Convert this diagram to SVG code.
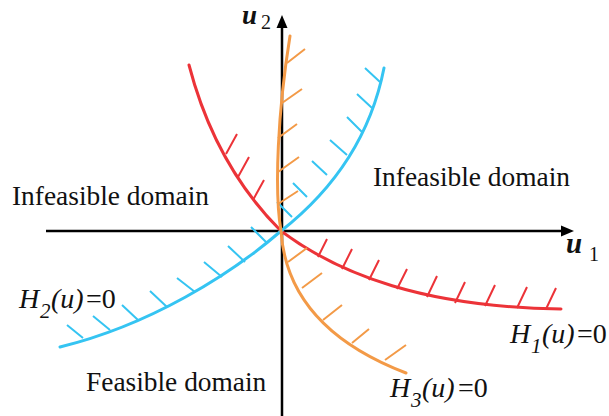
<svg xmlns="http://www.w3.org/2000/svg" width="609" height="416" viewBox="0 0 609 416">
<defs>
<style>
.ax{stroke:#000;stroke-width:2.5;fill:none}
.cv{fill:none;stroke-width:3;stroke-linecap:round}
.ht{fill:none;stroke-width:2;stroke-linecap:butt}
.red{stroke:#EC3338}
.blue{stroke:#35C4F2}
.org{stroke:#F39A47}
.lbl{font-family:"Liberation Serif","Times New Roman",serif;font-size:27.4px;fill:#111}
.eq{font-family:"Liberation Serif","Times New Roman",serif;font-size:28px;fill:#111;font-style:italic}
.sub{font-size:21px}
.rm{font-style:normal}
.axl{font-family:"Liberation Serif","Times New Roman",serif;fill:#111;font-size:29px;font-weight:bold;font-style:italic}
.axs{font-family:"Liberation Serif","Times New Roman",serif;fill:#111;font-size:20px}
</style>
</defs>
<rect width="609" height="416" fill="#fff"/>
<g id="axes">
<line class="ax" x1="46" y1="231" x2="564" y2="231"/>
<polygon points="574,231 561,225.5 561,236.5" fill="#000"/>
<line class="ax" x1="282" y1="416" x2="282" y2="26"/>
<polygon points="282,15 276.5,28 287.5,28" fill="#000"/>
</g>
<g id="connectors">
<g id="H1">
<path class="cv red" d="M189,65 Q215,165 281,231 C340,275 425,307 561,309"/>
<path class="ht red" d="M226,154 l11,-20 M238,177 l11,-20 M253,200 l11,-20 M318,257 l9,-18 M342,269 l10,-20 M369,280 l10,-20 M397,289 l10,-20 M427,297 l10,-21 M455,303 l10,-21 M485,306 l10,-21 M517,308 l10,-21 M546,309 l10,-21"/>
</g>
<g id="H2">
<path class="cv blue" d="M384,68 Q365,165 281,231 C230,275 150,325 60,347"/>
<path class="ht blue" d="M380,82 l-15,-14 M372,108 l-15,-14 M362,132 l-15,-15 M347,155 l-17,-15 M327,175 l-15,-14 M307,197 l-14,-14 M292,217 l-15,-15 M267,243 l-16,-16 M245,262 l-17,-16 M222,277 l-18,-15 M195,292 l-18,-14 M167,307 l-17,-16 M138,320 l-16,-15 M110,330 l-17,-14 M83,338 l-16,-13"/>
</g>
<g id="H3">
<path class="cv org" d="M290,36 C278,110 274,190 281,231 C285,290 320,340 406,373"/>
<path class="ht org" d="M287,63 l18,-14 M282,103 l20,-14 M278,138 l19,-14 M278,172 l21,-15 M278,204 l20,-13 M288,262 l19,-14 M302,288 l20,-15 M323,320 l19,-15 M352,343 l17,-14 M385,360 l21,-15"/>
</g>
</g>
<g id="labels">
<text class="lbl" x="12" y="205">Infeasible domain</text>
<text class="lbl" x="373" y="186">Infeasible domain</text>
<text class="lbl" x="86" y="391">Feasible domain</text>
<text class="axl" x="242" y="24" style="font-size:27px">u</text>
<text class="axs" x="261" y="29">2</text>
<text class="axl" x="566" y="253">u</text>
<text class="axs" x="589" y="261">1</text>
<text class="eq" x="19" y="308">H</text>
<text class="eq sub" x="40" y="318">2</text>
<text class="eq" x="51" y="308">(u)</text>
<text class="eq rm" x="86" y="308">=0</text>
<text class="eq" x="510" y="343">H</text>
<text class="eq sub" x="531" y="353">1</text>
<text class="eq" x="542" y="343">(u)</text>
<text class="eq rm" x="577" y="343">=0</text>
<text class="eq" x="390" y="397">H</text>
<text class="eq sub" x="411" y="407">3</text>
<text class="eq" x="422" y="397">(u)</text>
<text class="eq rm" x="458" y="397">=0</text>
</g>
</svg>
